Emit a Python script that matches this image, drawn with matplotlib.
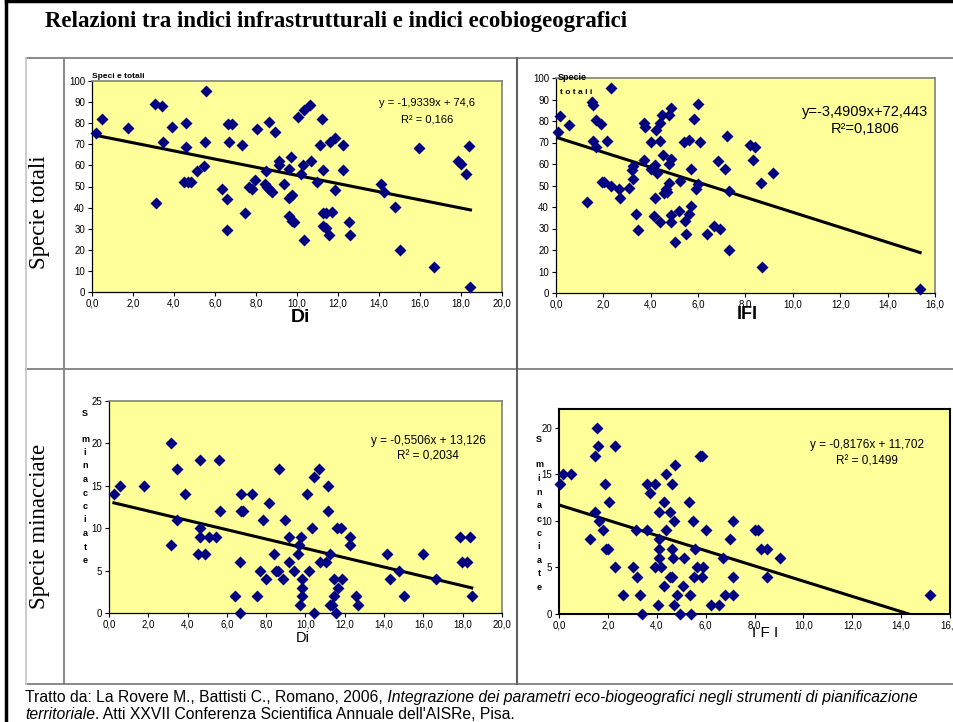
import numpy as np
import matplotlib.pyplot as plt
from matplotlib.ticker import FuncFormatter, MultipleLocator

plt.rcParams['font.family'] = ['Liberation Sans', 'DejaVu Sans']

W, H = 954, 722

# (indice, specie) pairs
di_totali = [
    (0.21, 75.2), (0.49, 82.2), (1.77, 77.9), (3.07, 89.0), (3.41, 88.3), (3.12, 42.3),
    (3.44, 71.3), (3.88, 78.1), (4.58, 80.1), (4.58, 68.5), (4.50, 51.9), (4.67, 51.9),
    (4.82, 51.9), (5.10, 57.3), (5.44, 59.5), (5.50, 71.3), (5.58, 95.3), (6.36, 48.6),
    (6.57, 44.3), (6.57, 29.3), (6.66, 71.1), (6.62, 79.5), (6.82, 79.5), (7.31, 69.9),
    (7.44, 37.4), (7.65, 49.8), (7.79, 48.6), (7.94, 53.2), (8.07, 77.4), (8.43, 51.3),
    (8.52, 50.0), (8.65, 48.7), (8.78, 47.2), (8.50, 57.3), (8.64, 80.8), (8.93, 76.0),
    (9.12, 62.3), (9.12, 60.3), (9.37, 51.3), (9.63, 44.5), (9.77, 46.2), (9.63, 58.2),
    (9.59, 36.1), (9.71, 64.2), (9.77, 33.6), (9.87, 33.3), (10.05, 83.1), (10.29, 60.3),
    (10.21, 55.8), (10.32, 86.3), (10.65, 88.5), (10.34, 24.6), (10.70, 62.1), (10.99, 51.9),
    (11.14, 69.9), (11.20, 82.2), (11.27, 57.9), (11.25, 37.4), (11.40, 37.4), (11.27, 31.4),
    (11.40, 30.1), (11.54, 27.0), (11.62, 71.1), (11.85, 73.0), (11.70, 38.0), (11.85, 48.4),
    (12.26, 69.9), (12.26, 57.9), (12.55, 33.3), (12.60, 27.0), (14.09, 51.3), (14.22, 47.3),
    (14.76, 40.2), (15.03, 20.0), (15.94, 68.3), (16.67, 12.0), (17.84, 62.3), (18.00, 60.7),
    (18.25, 56.0), (18.39, 69.1), (18.46, 2.2),
]
ifi_totali = [
    (0.08, 75.0), (0.18, 82.4), (0.56, 78.2), (1.29, 42.1), (1.52, 89.0), (1.55, 87.6),
    (1.56, 70.6), (1.67, 80.4), (1.70, 67.8), (1.91, 78.4), (1.93, 51.5), (2.04, 51.5),
    (2.17, 70.8), (2.33, 95.2), (2.33, 49.9), (2.64, 48.4), (2.70, 44.2), (3.08, 48.8),
    (3.19, 57.1), (3.26, 58.9), (3.26, 53.2), (3.39, 36.9), (3.45, 29.2), (3.70, 61.9),
    (3.70, 79.0), (3.77, 77.0), (3.99, 70.3), (4.00, 57.5), (4.15, 35.8), (4.18, 59.6),
    (4.21, 75.9), (4.18, 44.3), (4.25, 55.7), (4.37, 79.2), (4.37, 70.8), (4.37, 33.1),
    (4.46, 82.7), (4.51, 64.1), (4.54, 46.3), (4.69, 47.1), (4.63, 48.5), (4.75, 83.0),
    (4.75, 59.9), (4.77, 51.0), (4.86, 86.0), (4.84, 62.2), (4.87, 36.2), (4.87, 33.1),
    (5.04, 23.8), (5.19, 38.1), (5.25, 51.9), (5.41, 70.1), (5.43, 33.4), (5.48, 27.4),
    (5.60, 71.1), (5.60, 36.7), (5.72, 40.3), (5.72, 57.7), (5.84, 80.9), (5.91, 48.4),
    (5.99, 87.9), (5.98, 50.9), (6.10, 70.1), (6.36, 27.4), (6.65, 31.3), (6.82, 61.4),
    (6.91, 29.9), (7.13, 57.7), (7.20, 72.8), (7.29, 47.3), (7.29, 19.9), (8.17, 68.7),
    (8.38, 68.0), (8.30, 61.9), (8.65, 51.3), (8.68, 12.3), (9.16, 55.7), (15.37, 2.0),
]
di_minacciate = [
    (0.25, 14), (0.56, 15), (1.80, 15), (3.14, 20), (3.17, 8), (3.44, 17), (3.44, 11),
    (3.88, 14), (4.63, 18), (4.63, 10), (4.63, 9), (4.53, 7), (4.87, 7), (5.07, 9),
    (5.45, 9), (5.60, 18), (5.63, 12), (6.43, 2), (6.65, 0), (6.65, 6), (6.72, 14),
    (6.73, 12), (6.82, 12), (7.29, 14), (7.53, 2), (7.67, 5), (7.85, 11), (7.97, 4),
    (8.13, 13), (8.41, 7), (8.51, 5), (8.60, 5), (8.63, 17), (8.85, 4), (8.96, 11),
    (9.16, 9), (9.16, 6), (9.40, 5), (9.62, 7), (9.69, 8), (9.70, 1), (9.77, 9),
    (9.84, 4), (9.84, 3), (9.84, 2), (10.10, 14), (10.20, 5), (10.35, 10), (10.43, 16),
    (10.43, 0), (10.67, 17), (10.72, 6), (11.03, 6), (11.16, 15), (11.16, 12), (11.25, 7),
    (11.25, 1), (11.35, 1), (11.46, 4), (11.46, 2), (11.55, 0), (11.60, 10), (11.67, 3),
    (11.82, 10), (11.87, 4), (12.28, 9), (12.28, 8), (12.59, 2), (12.65, 1), (14.13, 7),
    (14.28, 4), (14.74, 5), (15.01, 2), (15.98, 7), (16.64, 4), (17.85, 9), (17.98, 6),
    (18.22, 6), (18.39, 9), (18.46, 2),
]
ifi_minacciate = [
    (0.03, 14), (0.16, 15), (0.50, 15), (1.28, 8), (1.46, 17), (1.47, 11), (1.54, 20),
    (1.61, 18), (1.64, 10), (1.80, 9), (1.87, 14), (1.94, 7), (2.00, 7), (2.05, 12),
    (2.29, 18), (2.31, 5), (2.61, 2), (3.02, 5), (3.15, 9), (3.21, 4), (3.32, 2),
    (3.40, 0), (3.62, 14), (3.62, 9), (3.74, 13), (3.92, 14), (3.92, 5), (4.04, 1),
    (4.10, 11), (4.10, 8), (4.10, 7), (4.10, 6), (4.16, 5), (4.29, 12), (4.29, 3),
    (4.39, 15), (4.39, 9), (4.53, 11), (4.55, 4), (4.62, 4), (4.64, 14), (4.64, 7),
    (4.68, 6), (4.70, 1), (4.71, 10), (4.75, 16), (4.81, 2), (4.94, 0), (5.06, 3),
    (5.11, 6), (5.30, 12), (5.35, 2), (5.42, 0), (5.47, 10), (5.53, 4), (5.58, 7),
    (5.65, 5), (5.76, 17), (5.87, 17), (5.84, 4), (5.88, 5), (6.02, 9), (6.24, 1),
    (6.55, 1), (6.70, 6), (6.78, 2), (6.99, 8), (7.13, 2), (7.13, 4), (7.13, 10),
    (8.03, 9), (8.15, 9), (8.25, 7), (8.50, 7), (8.50, 4), (9.04, 6), (15.19, 2),
]

# linear trend lines as printed on the chart
slopes = [-1.9339, -3.4909, -0.5506, -0.8176]
intercepts = [74.6, 72.443, 13.126, 11.702]
eq_labels = ['y = -1,9339x + 74,6', 'y=-3,4909x+72,443', 'y = -0,5506x + 13,126', 'y = -0,8176x + 11,702']
r2_labels = ['R² = 0,166', 'R²=0,1806', 'R² = 0,2034', 'R² = 0,1499']

fig = plt.figure(figsize=(W / 100, H / 100), dpi=100)


def px_axes(l, t, r, b):
    return fig.add_axes([l / W, 1 - b / H, (r - l) / W, (b - t) / H])


def px_text(x, y, s, **kw):
    return fig.text(x / W, 1 - y / H, s, **kw)


# page frame and table grid
bg = fig.add_axes([0, 0, 1, 1])
bg.set_xlim(0, W)
bg.set_ylim(H, 0)
bg.axis('off')
bg.plot([6, 6], [0, H], color='black', lw=2.5)
bg.plot([6, W], [1, 1], color='black', lw=2.5)
for yy in (58, 369, 684):
    bg.plot([26, W], [yy, yy], color='#808080', lw=1.3)
bg.plot([26, 26], [58, 684], color='#c8c8c8', lw=1.3)
bg.plot([64, 64], [58, 684], color='#808080', lw=1.3)
bg.plot([517, 517], [58, 684], color='#606060', lw=1.5)

comma = FuncFormatter(lambda v, p: f'{v:.1f}'.replace('.', ','))


def panel(ax, pts, k, xmax, ymax, ystep, boxed=False):
    x, y = np.array(pts, dtype=float).T
    ax.set_facecolor('#FFFF99')
    xs = np.array([x.min(), x.max()])
    ax.plot(xs, slopes[k] * xs + intercepts[k], color='black', lw=2.2, zorder=2)
    ax.plot(x, y, 'D', color='#000080', ms=5.8, mec='none', clip_on=False, zorder=3)
    ax.set_xlim(0, xmax)
    ax.set_ylim(0, ymax)
    ax.xaxis.set_major_locator(MultipleLocator(2))
    ax.yaxis.set_major_locator(MultipleLocator(ystep))
    ax.xaxis.set_major_formatter(comma)
    ax.tick_params(labelsize=7, length=3, width=0.8, pad=2, colors='black')
    if boxed:
        for s in ax.spines.values():
            s.set_color('black')
            s.set_linewidth(1.5)
    else:
        for s in ('top', 'right'):
            ax.spines[s].set_color('#808080')
            ax.spines[s].set_linewidth(1.2)
        for s in ('left', 'bottom'):
            ax.spines[s].set_linewidth(0.9)


ax1 = px_axes(92, 81, 502, 292)
panel(ax1, di_totali, 0, 20, 100, 10)
ax2 = px_axes(556, 78, 935, 293)
panel(ax2, ifi_totali, 1, 16, 100, 10)
ax3 = px_axes(109, 401, 502, 613)
panel(ax3, di_minacciate, 2, 20, 25, 5)
ax4 = px_axes(559, 409, 950, 614)
panel(ax4, ifi_minacciate, 3, 16, 22, 5, boxed=True)

# trend equations
eq_pos = [(427, 103, 119, 8), (865, 112, 129, 10.5), (428, 441, 457, 8.5), (867, 445, 462, 8.5)]
for (cx, y1, y2, fs), eq, r2 in zip(eq_pos, eq_labels, r2_labels):
    px_text(cx, y1, eq, fontsize=fs, ha='center', va='center')
    px_text(cx, y2, r2, fontsize=fs, ha='center', va='center')

# axis titles
px_text(300, 318, 'Di', fontsize=14, weight='bold', ha='center', va='center')
px_text(747, 315, 'IFI', fontsize=13, weight='bold', ha='center', va='center',
        bbox=dict(facecolor='white', edgecolor='none', pad=0))
px_text(303, 638, 'Di', fontsize=10.5, ha='center', va='center')
px_text(765, 633, 'I F I', fontsize=11, ha='center', va='center')

px_text(92, 76, 'Speci e totali', fontsize=6, weight='bold', va='center')
px_text(558, 78, 'Specie', fontsize=6.5, weight='bold', va='center')
px_text(560, 93, 't o t a l i', fontsize=6, weight='bold', va='center')

letters = ['S', 'm', 'i', 'n', 'a', 'c', 'c', 'i', 'a', 't', 'e']
for (lx, ly0, step) in [(85, 413, 13.5), (539, 439, 13.6)]:
    for i, ch in enumerate(letters):
        yy = ly0 if i == 0 else ly0 + 26 + (i - 1) * step
        px_text(lx, yy, ch, fontsize=6.5, weight='bold', ha='center', va='center')

# row titles and page title
px_text(40, 212, 'Specie totali', family='Liberation Serif', fontsize=16.5,
        rotation=90, ha='center', va='center')
px_text(40, 526, 'Specie minacciate', family='Liberation Serif', fontsize=16.5,
        rotation=90, ha='center', va='center')
px_text(45, 22, 'Relazioni tra indici infrastrutturali e indici ecobiogeografici',
        family='Liberation Serif', fontsize=16.5, weight='bold', va='center')

# source note
t1 = px_text(25, 702, 'Tratto da: La Rovere M., Battisti C., Romano, 2006,', fontsize=11.3, va='baseline')
bg.annotate(' Integrazione dei parametri eco-biogeografici negli strumenti di pianificazione',
            xy=(1, 0), xycoords=t1, fontsize=11.3, style='italic', va='bottom', ha='left')
t3 = px_text(25, 719, 'territoriale', fontsize=11.3, style='italic', va='baseline')
bg.annotate(". Atti XXVII Conferenza Scientifica Annuale dell'AISRe, Pisa.",
            xy=(1, 0), xycoords=t3, fontsize=11.3, va='bottom', ha='left')

fig.savefig('out.png', dpi=100)
